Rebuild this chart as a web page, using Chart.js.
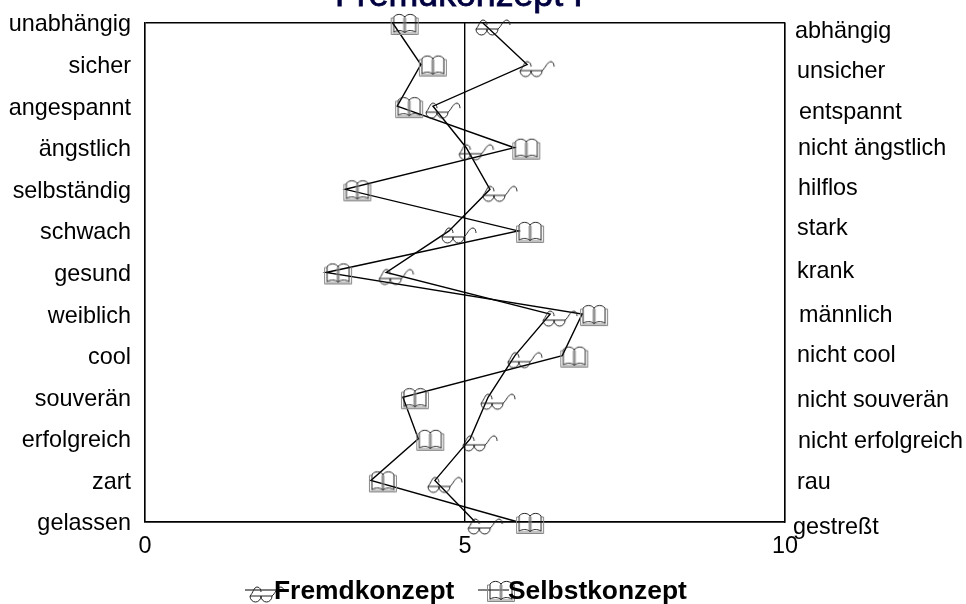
<!DOCTYPE html>
<html><head><meta charset="utf-8">
<style>html,body{margin:0;padding:0;background:#fff}#w{width:966px;height:604px}</style>
<script src="https://cdn.jsdelivr.net/npm/chart.js@4"></script></head>
<body><div id="w"><canvas id="c" width="966" height="604"></canvas></div>
<script>
const leftLabels = ["unabhängig","sicher","angespannt","ängstlich","selbständig","schwach","gesund","weiblich","cool","souverän","erfolgreich","zart","gelassen"];
const rightLabels = ["abhängig","unsicher","entspannt","nicht ängstlich","hilflos","stark","krank","männlich","nicht cool","nicht souverän","nicht erfolgreich","rau","gestreßt"];
const fremd = [5.28,5.97,4.5,5.02,5.39,4.75,3.77,6.33,5.78,5.36,5.08,4.53,5.16];
const selbst = [3.87,4.31,3.94,5.77,3.13,5.83,2.83,6.83,6.52,4.03,4.27,3.53,5.83];
const xTicks = [0,5,10];
const titleText = "Fremdkonzept I";
const rightNudgeY = [9,7,6,1,-1,-2,-1,1,0,3,3,2,6];
const rightNudgeX = [-2,0,2,1,1,0,0,2,0,0,1,0,-4];
const FONT = '"Liberation Sans", Arial, sans-serif';

function bookIcon(){
  const c=document.createElement('canvas');c.width=64;c.height=46;const g=c.getContext('2d');
  // sprite centre is the data vertex: the book hangs right of it
  const ox=30,oy=14; // book's top-left in the sprite
  g.lineWidth=1;
  g.strokeStyle='#888';
  g.beginPath();g.moveTo(ox+2.5,oy+4);g.lineTo(ox+.5,oy+4);g.lineTo(ox+.5,oy+20.5);g.lineTo(ox+27.5,oy+20.5);g.lineTo(ox+27.5,oy+4);g.lineTo(ox+25.5,oy+4);g.stroke();
  g.beginPath();g.moveTo(ox+1.5,oy+19);g.lineTo(ox+26.5,oy+19);g.stroke();
  g.strokeStyle='#222';
  g.beginPath();g.moveTo(ox+3,oy+18);g.lineTo(ox+3,oy+3);g.bezierCurveTo(ox+6,oy-.5,ox+11,oy-.5,ox+14,oy+3);g.bezierCurveTo(ox+17,oy-.5,ox+22,oy-.5,ox+25,oy+3);g.lineTo(ox+25,oy+18);g.bezierCurveTo(ox+21,oy+16,ox+17,oy+16,ox+14,oy+18.5);g.bezierCurveTo(ox+11,oy+16,ox+7,oy+16,ox+3,oy+18);g.stroke();
  g.beginPath();g.moveTo(ox+14,oy+3);g.lineTo(ox+14,oy+18.5);g.stroke();
  g.strokeStyle='#999';
  g.beginPath();g.moveTo(ox+13,oy+4);g.lineTo(ox+13,oy+17);g.moveTo(ox+15,oy+4);g.lineTo(ox+15,oy+17);g.stroke();
  return c;
}
function glassesIcon(){
  const c=document.createElement('canvas');c.width=72;c.height=40;const g=c.getContext('2d');
  const ox=36,oy=20; // sprite centre is the data vertex
  g.lineWidth=1;g.strokeStyle='#222';
  g.beginPath();g.moveTo(ox-7,oy+6);g.lineTo(ox+15,oy+6);g.stroke();
  g.beginPath();g.ellipse(ox-1.5,oy+6,5.5,6,0,0,Math.PI);g.stroke();
  g.beginPath();g.ellipse(ox+9.5,oy+6,5.5,6,0,0,Math.PI);g.stroke();
  g.beginPath();g.moveTo(ox-7,oy+6);g.bezierCurveTo(ox-4,oy+3,ox-3,oy-3,ox,oy-3);g.bezierCurveTo(ox+3,oy-3,ox+4,oy,ox+4,oy+2);g.stroke();
  g.beginPath();g.moveTo(ox+15,oy+6);g.bezierCurveTo(ox+18,oy+4,ox+20,oy-3,ox+24,oy-3);g.bezierCurveTo(ox+26,oy-3,ox+27,oy,ox+27,oy+2);g.stroke();
  return c;
}
const book=bookIcon(), glasses=glassesIcon();

function pts(a){return a.map((v,i)=>({x:v,y:leftLabels[i]}));}

const extras={id:'extras',
  beforeDraw(ch){
    const s=ch.scales.y;
    if(!s._shifted){
      const o=s.drawLabels;
      s.drawLabels=function(a){const g=this.ctx;g.save();g.translate(0,2);o.call(this,a);g.restore();};
      s._shifted=true;
    }
  },
  afterDraw(ch){
    const g=ch.ctx,y=ch.scales.y,a=ch.chartArea;
    g.save();
    g.font='23.4px '+FONT;g.fillStyle='#000';g.textAlign='left';g.textBaseline='middle';
    rightLabels.forEach((t,i)=>g.fillText(t,a.right+12+rightNudgeX[i],y.getPixelForValue(i)+rightNudgeY[i]));
    g.font='35.7px '+FONT;g.fillStyle='#000040';g.strokeStyle='#000040';g.lineWidth=.8;g.textAlign='center';g.textBaseline='alphabetic';
    g.fillText(titleText,459,6);g.strokeText(titleText,459,6);
    // legend
    g.font='bold 26.4px '+FONT;g.fillStyle='#000';g.textAlign='left';g.textBaseline='middle';
    const ly=590;
    g.lineWidth=1;g.strokeStyle='#000';
    [[ch.data.datasets[0],245,257,274],[ch.data.datasets[1],478,489,508]].forEach(([d,x0,vx,tx])=>{
      g.beginPath();g.moveTo(x0,ly);g.lineTo(x0+31,ly);g.stroke();
      g.drawImage(d.pointStyle,vx-d.pointStyle.width/2,ly-d.pointStyle.height/2);
      g.fillText(d.label,tx,ly+2);
    });
    g.restore();
  }};

new Chart(document.getElementById('c'),{
  type:'line',
  data:{labels:leftLabels,datasets:[
    {label:'Fremdkonzept',data:pts(fremd),borderColor:'#000',borderWidth:1.4,pointStyle:glasses,tension:0,clip:false},
    {label:'Selbstkonzept',data:pts(selbst),borderColor:'#000',borderWidth:1.4,pointStyle:book,tension:0,clip:false}
  ]},
  plugins:[extras],
  options:{
    responsive:false,animation:false,devicePixelRatio:1,
    layout:{padding:{top:23,bottom:0,left:0,right:0}},
    plugins:{legend:{display:false},title:{display:false},tooltip:{enabled:false}},
    scales:{
      x:{type:'linear',min:0,max:10,position:'bottom',
        afterFit(s){s.height=82;s.paddingLeft=0;s.paddingRight=0;},
        ticks:{stepSize:5,padding:11,color:'#000',font:{family:FONT,size:23.4},maxRotation:0,
          callback:v=>xTicks.includes(v)?String(v):''},
        grid:{color:'#000',lineWidth:1.4,drawTicks:false},border:{color:'#000',width:1.4}},
      y:{type:'category',labels:leftLabels,offset:false,position:'left',
        afterFit(s){s.width=145;s.paddingTop=0;s.paddingBottom=0;},
        ticks:{padding:14,color:'#000',autoSkip:false,font:{family:FONT,size:23.4}},
        grid:{color:c=>(c.index===0||c.index===leftLabels.length-1)?'#000':'rgba(0,0,0,0)',lineWidth:1.4,drawTicks:false},
        border:{color:'#000',width:1.4}},
      y2:{type:'category',labels:rightLabels,offset:false,position:'right',
        afterFit(s){s.width=181;s.paddingTop=0;s.paddingBottom=0;},
        ticks:{display:false},grid:{display:false},border:{color:'#000',width:1.4}}
    }
  }
});
</script></body></html>
